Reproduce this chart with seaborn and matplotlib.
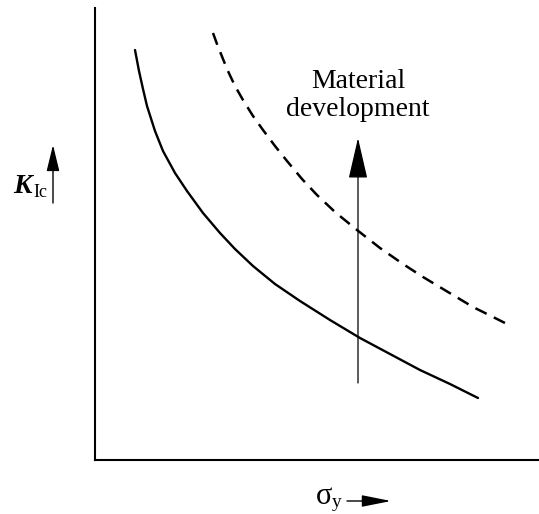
import matplotlib
matplotlib.use("Agg")
import matplotlib.pyplot as plt
import seaborn as sns
import pandas as pd
from matplotlib.patches import FancyArrowPatch

# ---- data (schematic, arbitrary units) ----
solid_x = [40, 44, 48, 52, 60, 68, 80, 92, 108, 125, 140, 158, 180, 205,
           235, 265, 295, 325, 355, 383]
solid_y = [410, 389, 371, 354, 329, 309, 287, 269, 247, 227, 211, 194, 176,
           159, 140, 122, 106, 90, 76, 62]
dashed_x = [118, 122, 126, 132, 140, 148, 158, 168, 180, 192, 207, 222, 240,
            262, 285, 308, 328, 348, 378, 410]
dashed_y = [427, 416, 406, 391, 374, 360, 344, 330, 314, 299, 281, 265, 248,
            230, 212, 196, 183, 171, 153, 137]
arrow_x = 263
arrow_y0, arrow_y1 = 77, 322
label_top = "Material"
label_bottom = "development"

sns.set_style("white")
plt.rcParams["font.family"] = ["Liberation Serif", "DejaVu Serif"]
plt.rcParams["text.color"] = "black"

W, H = 539, 514
fig = plt.figure(figsize=(W / 100, H / 100), dpi=100)
ax = fig.add_axes([95 / W, 54 / H, 444 / W, 452 / H])

df_s = pd.DataFrame({"x": solid_x, "y": solid_y})
df_d = pd.DataFrame({"x": dashed_x, "y": dashed_y})
sns.lineplot(data=df_s, x="x", y="y", ax=ax, color="black", lw=1.7,
             sort=False, estimator=None)
sns.lineplot(data=df_d, x="x", y="y", ax=ax, color="black", lw=1.8,
             sort=False, estimator=None)
ax.lines[-1].set_dashes((5.0, 3.2))
ax.lines[-1].set_dash_capstyle("butt")
ax.lines[0].set_solid_joinstyle("round")

ax.set_xlim(0, 444)
ax.set_ylim(0, 452)
ax.set_xlabel("")
ax.set_ylabel("")
ax.set_xticks([])
ax.set_yticks([])
for s in ["top", "right"]:
    ax.spines[s].set_visible(False)
for s in ["left", "bottom"]:
    ax.spines[s].set_linewidth(1.5)
    ax.spines[s].set_color("black")

# material development arrow
arr = FancyArrowPatch((arrow_x, arrow_y0), (arrow_x, arrow_y1),
                      arrowstyle="-|>,head_length=1.3,head_width=0.3",
                      mutation_scale=20, lw=0.9, color="black",
                      shrinkA=0, shrinkB=0)
ax.add_patch(arr)
ax.text(arrow_x, 372, label_top, ha="center", va="baseline", fontsize=20,
        color="black")
ax.text(arrow_x, 344, label_bottom, ha="center", va="baseline", fontsize=20,
        color="black")


def fx(px):
    return px / W


def fy(py):
    return 1 - py / H


# K_Ic label
fig.text(fx(13), fy(193), "K", fontsize=20, fontweight="bold", style="italic",
         ha="left", va="baseline", color="black")
fig.text(fx(33), fy(197), "Ic", fontsize=13, ha="left", va="baseline",
         color="black")
fig.add_artist(FancyArrowPatch((fx(53), fy(203)), (fx(53), fy(145)),
                               transform=fig.transFigure,
                               arrowstyle="-|>,head_length=0.9,head_width=0.22",
                               mutation_scale=18, lw=1.0, color="black",
                               shrinkA=0, shrinkB=0))

# sigma_y label
fig.text(fx(316), fy(504), "σ", fontsize=22, ha="left", va="baseline",
         color="black")
fig.text(fx(332), fy(507), "y", fontsize=14, ha="left", va="baseline",
         color="black")
fig.add_artist(FancyArrowPatch((fx(347), fy(501)), (fx(391), fy(501)),
                               transform=fig.transFigure,
                               arrowstyle="-|>,head_length=1.0,head_width=0.2",
                               mutation_scale=18, lw=1.0, color="black",
                               shrinkA=0, shrinkB=0))

fig.savefig("out.png", dpi=100)
